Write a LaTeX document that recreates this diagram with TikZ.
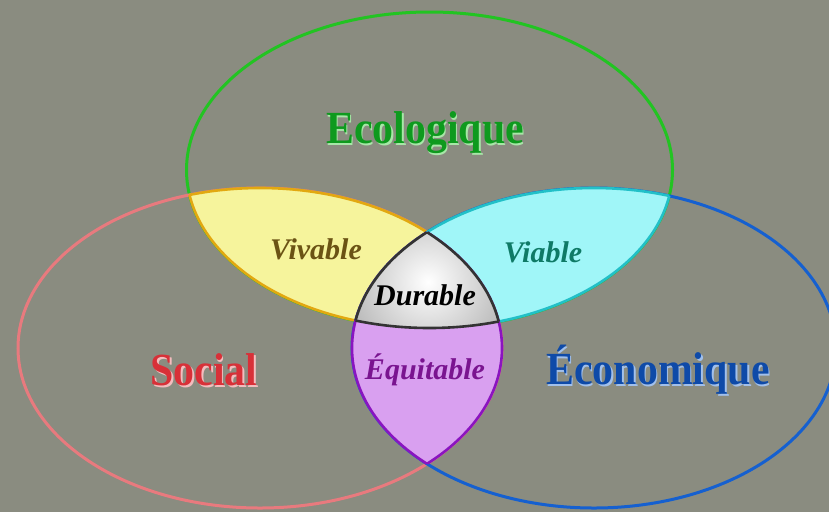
\documentclass[tikz,border=0pt]{standalone}
\usepackage{fontspec}
\setmainfont{Liberation Serif}
\newfontfamily\titlefont[FakeStretch=0.91]{Liberation Serif}
\definecolor{bgc}{HTML}{8A8C80}
\definecolor{ecoG}{HTML}{22C422}
\definecolor{socR}{HTML}{E87A7E}
\definecolor{ecoB}{HTML}{1560D0}
\definecolor{yelF}{HTML}{F6F49C}
\definecolor{yelL}{HTML}{E2A810}
\definecolor{cyaF}{HTML}{A0F6F8}
\definecolor{cyaL}{HTML}{22C0C8}
\definecolor{purF}{HTML}{D9A0F0}
\definecolor{purL}{HTML}{8A14C0}
\definecolor{vivT}{HTML}{6B5314}
\definecolor{viaT}{HTML}{0F7A66}
\definecolor{equT}{HTML}{7A1490}
\definecolor{socT}{HTML}{D83038}
\definecolor{ecoT}{HTML}{0E9A1E}
\definecolor{econT}{HTML}{0E4AA8}
\tikzset{
  title/.style={font=\titlefont\bfseries\fontsize{46}{50}\selectfont, inner sep=0pt},
  inner/.style={font=\bfseries\itshape\fontsize{30}{34}\selectfont, inner sep=0pt},
  ring/.style={line width=3pt},
  lens/.style={line width=2.6pt},
}
\newcommand{\GreenE}{(429.5,170) ellipse [x radius=243pt, y radius=158pt]}
\newcommand{\RedE}{(260,348) ellipse [x radius=242pt, y radius=160pt]}
\newcommand{\BlueE}{(594,348) ellipse [x radius=242pt, y radius=160pt]}
\begin{document}
\begin{tikzpicture}[x=1pt,y=-1pt]
\useasboundingbox (0,0) rectangle (829,512);
\fill[bgc] (0,0) rectangle (829,512);
% main rings
\draw[ring,ecoG] \GreenE;
\draw[ring,socR] \RedE;
\draw[ring,ecoB] \BlueE;
% yellow lens (green & red)
\begin{scope}\clip \RedE; \fill[yelF] \GreenE; \draw[lens,yelL] \GreenE; \end{scope}
\begin{scope}\clip \GreenE; \draw[lens,yelL] \RedE; \end{scope}
% cyan lens (green & blue)
\begin{scope}\clip \BlueE; \fill[cyaF] \GreenE; \draw[lens,cyaL] \GreenE; \end{scope}
\begin{scope}\clip \GreenE; \draw[lens,cyaL] \BlueE; \end{scope}
% purple lens (red & blue)
\begin{scope}\clip \BlueE; \fill[purF] \RedE; \draw[lens,purL] \RedE; \end{scope}
\begin{scope}\clip \RedE; \draw[lens,purL] \BlueE; \end{scope}
% durable
\begin{scope}\clip \GreenE; \clip \RedE; \clip \BlueE;
  \shade[inner color=white, outer color=gray!80] (428,282) circle (120pt);
\end{scope}
\begin{scope}\clip \RedE; \clip \BlueE; \draw[lens,gray!40!black] \GreenE; \end{scope}
\begin{scope}\clip \GreenE; \clip \BlueE; \draw[lens,gray!40!black] \RedE; \end{scope}
\begin{scope}\clip \GreenE; \clip \RedE; \draw[lens,gray!40!black] \BlueE; \end{scope}
% titles with light shadow
\node[title,ecoG!40!white] at (426.5,134.5) {Ecologique};
\node[title,ecoT] (eco) at (425,133) {Ecologique};
\node[title,socR!50!white] at (205.5,371.5) {Social};
\node[title,socT] (soc) at (204,370) {Social};
\node[title,ecoB!40!white] at (659.5,371.5) {Économique};
\node[title,econT] (econ) at (658,370) {Économique};
% inner labels
\node[inner,vivT] (viv) at (316,249) {Vivable};
\node[inner,viaT] (via) at (543,252) {Viable};
\node[inner,black] (dur) at (425,295) {Durable};
\node[inner,equT] (equ) at (425,370) {Équitable};
\end{tikzpicture}
\end{document}
